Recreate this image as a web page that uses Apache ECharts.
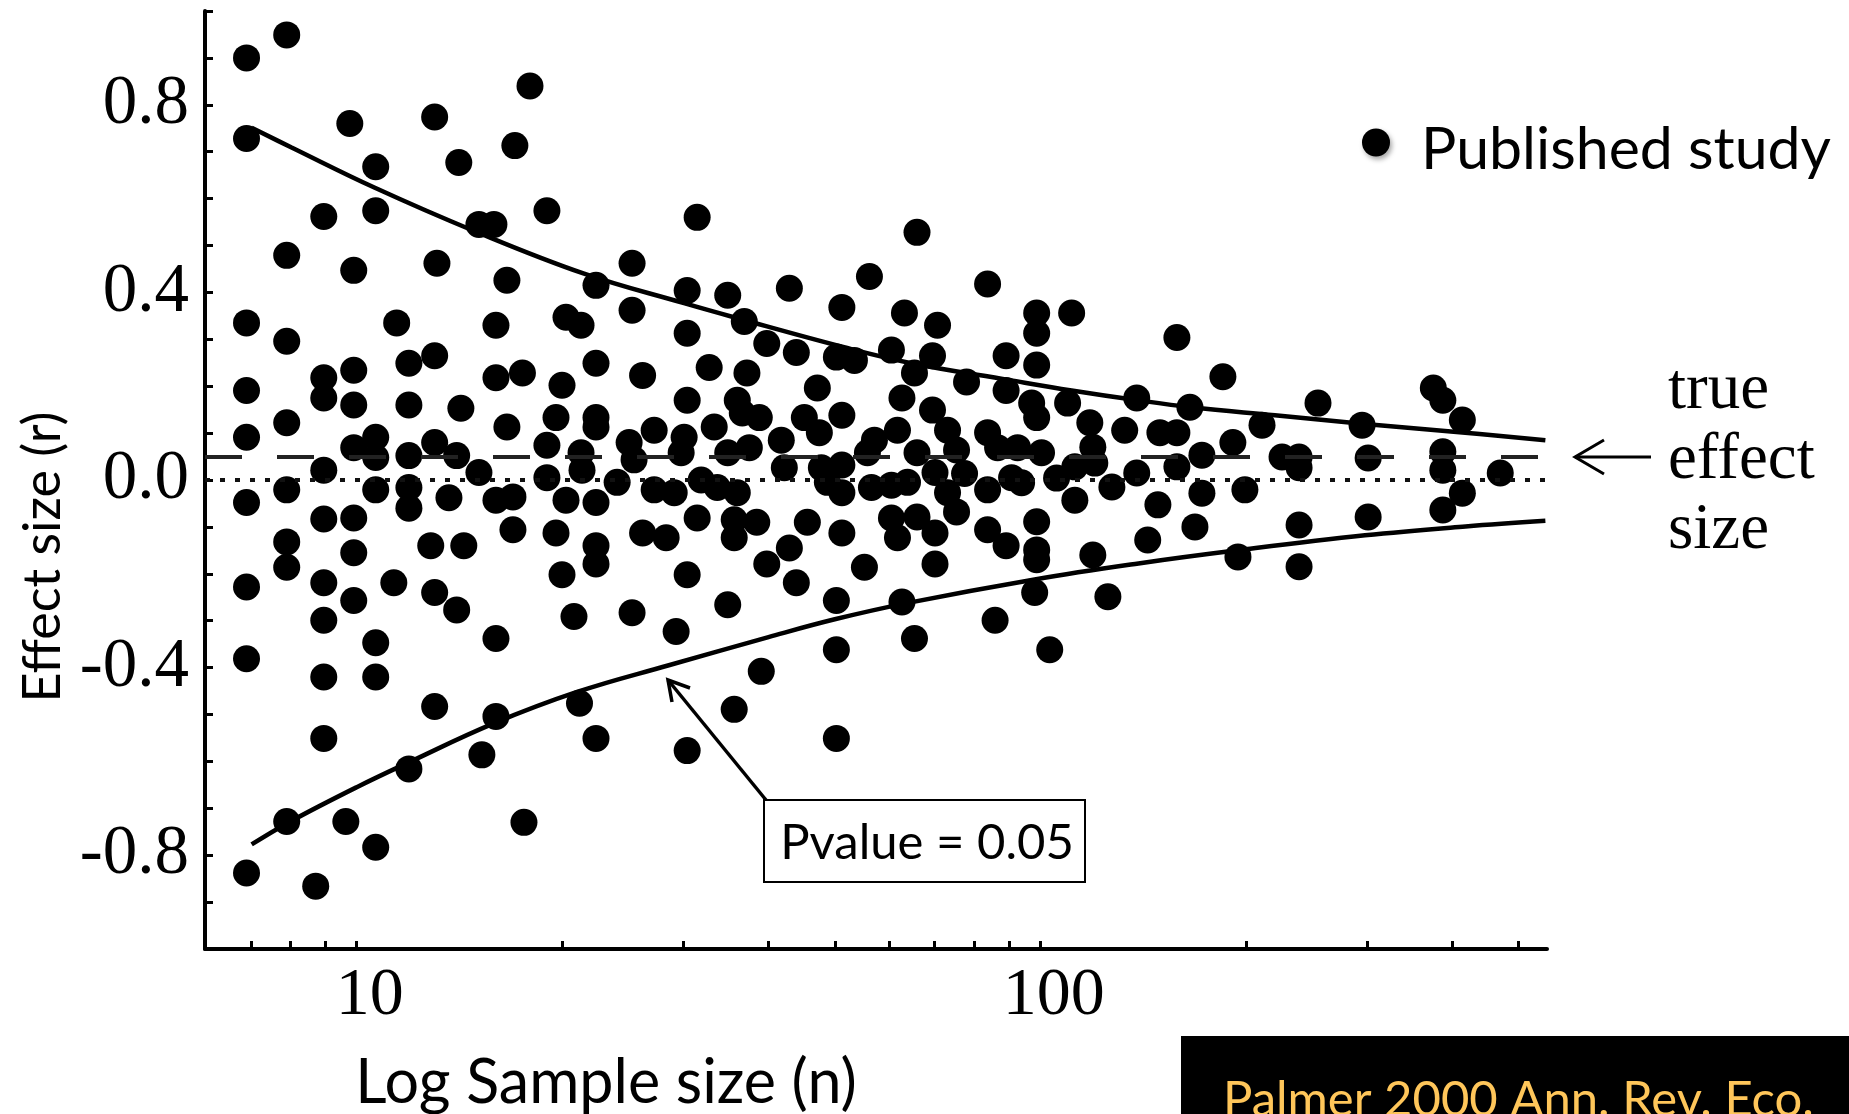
<!DOCTYPE html>
<html>
<head>
<meta charset="utf-8">
<script src="https://cdn.jsdelivr.net/npm/echarts@6/dist/echarts.min.js"></script>
<style>
html,body{margin:0;padding:0;background:#fff;}
#chart{width:1849px;height:1114px;}
</style>
</head>
<body>
<div id="chart"></div>
<script>
// ---- data ----
// each study: [sample size n, effect size r]
const studyPoints = [
[6.9,0.900],[6.9,0.728],[6.9,0.335],[6.9,0.191],[6.9,0.091],[6.9,-0.048],[6.9,-0.228],[6.9,-0.381],[6.9,-0.838],
[7.9,0.949],[7.9,0.479],[7.9,0.296],[7.9,0.122],[7.9,-0.021],[7.9,-0.132],[7.9,-0.186],[7.9,-0.728],
[8.95,0.562],[8.95,0.218],[8.95,0.175],[8.95,0.021],[8.95,-0.083],[8.95,-0.219],[8.95,-0.299],[8.95,-0.420],[8.95,-0.551],[8.71,-0.866],
[9.77,0.760],[9.9,0.447],[9.9,0.234],[9.9,0.160],[9.9,0.069],[9.9,-0.081],[9.9,-0.155],[9.9,-0.257],[9.64,-0.728],
[10.66,0.668],[10.66,0.574],[10.66,0.091],[10.66,0.048],[10.66,-0.021],[10.66,-0.347],[10.66,-0.420],[10.66,-0.783],
[11.44,0.335],[11.33,-0.219],[11.92,0.249],[11.92,0.160],[11.92,0.052],[11.92,-0.016],[11.92,-0.060],[11.92,-0.616],
[12.83,-0.140],[13.0,0.774],[13.0,0.265],[13.0,0.080],[13.0,-0.240],[13.0,-0.483],[13.1,0.462],
[13.64,-0.038],[14.0,0.052],[14.0,-0.277],[14.1,0.677],[14.2,0.153],[14.34,-0.140],
[15.09,0.545],[15.09,0.016],[15.24,-0.586],[15.87,0.545],[15.98,0.330],[15.98,0.218],[15.98,-0.043],[15.98,-0.338],[15.98,-0.504],
[16.58,0.426],[16.58,0.113],[16.92,-0.036],[16.92,-0.106],[17.03,0.713],[17.47,0.228],[17.56,-0.730],[17.92,0.840],
[18.97,0.574],[18.97,0.074],[18.97,0.005],[19.56,0.133],[19.56,-0.113],[19.96,0.202],[19.96,-0.202],[20.23,0.347],[20.23,-0.043],[20.78,-0.291],
[21.17,-0.476],[21.28,0.330],[21.28,0.058],[21.35,0.021],[22.38,0.415],[22.38,0.249],[22.38,0.133],[22.38,0.113],[22.38,-0.048],[22.38,-0.140],[22.38,-0.179],[22.38,-0.551],
[24.03,-0.005],[25.02,0.080],[25.27,0.462],[25.27,0.362],[25.27,-0.283],[25.44,0.043],[26.18,0.223],[26.18,-0.113],[27.22,0.106],[27.22,-0.021],[28.34,-0.123],
[29.12,-0.027],[29.31,-0.323],[29.81,0.058],[30.11,0.091],[30.42,0.404],[30.42,0.313],[30.42,0.170],[30.42,-0.202],[30.42,-0.577],[31.46,0.560],[31.46,-0.081],[31.89,0.000],[32.76,0.240],[33.32,0.113],[33.66,-0.016],
[34.87,0.394],[34.87,0.058],[34.87,-0.266],[35.64,-0.085],[35.64,-0.123],[35.64,-0.489],[36.01,0.170],[36.01,-0.027],[36.62,0.143],[36.87,0.338],[37.2,0.228],[37.5,0.069],[38.45,-0.090],[38.78,0.133],[39.04,-0.408],[39.77,0.291],[39.77,-0.179],
[41.76,0.085],[42.19,0.026],[42.91,0.409],[42.91,-0.145],[43.93,0.272],[43.93,-0.219],[45.13,0.133],[45.59,-0.090],[47.15,0.196],[47.47,0.101],[47.79,0.026],[48.77,-0.005],[50.27,0.262],[50.27,-0.257],[50.27,-0.362],[50.27,-0.551],[51.21,0.368],[51.21,0.138],[51.21,0.032],[51.21,-0.027],[51.21,-0.113],[53.42,0.255],[55.25,-0.186],[55.81,0.058],[56.19,0.434],[56.57,-0.016],[57.14,0.085],
[60.51,0.277],[60.51,-0.011],[60.51,-0.081],[61.75,0.106],[61.75,-0.123],[62.69,0.175],[62.69,-0.260],[63.22,0.356],[63.87,-0.005],[65.39,0.228],[65.39,-0.338],[65.95,0.528],[65.95,0.058],[65.95,-0.079],[69.48,0.265],[69.48,0.149],[70.07,0.016],[70.07,-0.113],[70.07,-0.179],[70.67,0.330],[73.09,0.106],[73.09,-0.027],[75.34,0.064],[75.34,-0.068],[77.40,0.014],[77.92,0.209],
[83.64,0.418],[83.64,0.101],[83.64,-0.021],[83.64,-0.106],[85.78,-0.299],[86.51,0.069],[89.02,0.265],[89.02,0.191],[89.02,-0.140],[90.68,0.005],[92.53,0.069],[93.79,-0.006],[97.02,0.164],[98.01,-0.240],[98.67,0.356],[98.67,0.313],[98.67,0.245],[98.67,0.133],[98.67,-0.089],[98.67,-0.149],[98.67,-0.170],[100.3,0.058],
[103.1,-0.362],[105.5,0.004],[109.5,0.164],[111.0,0.356],[112.2,0.028],[112.2,-0.043],[118.0,0.122],[119.2,0.070],[119.2,-0.160],[120.0,0.036],[125.4,-0.249],[127.1,-0.015],[132.7,0.106],[138.2,0.175],[138.2,0.015],[143.4,-0.128],[148.4,-0.053],[149.4,0.101],
[158.2,0.304],[158.2,0.101],[158.2,0.028],[165.3,0.155],[168.1,-0.100],[172.1,0.053],[172.1,-0.028],[184.7,0.220],[191.0,0.080],[194.3,-0.164],[198.9,-0.021],[210.7,0.117],
[225.4,0.049],[238.7,0.049],[238.7,0.026],[238.7,-0.096],[238.7,-0.185],[254.4,0.164],[295.1,0.117],[301.2,0.047],[301.2,-0.079],[375.1,0.196],[387.3,0.170],[387.3,0.060],[387.3,0.021],[387.3,-0.064],[413.6,0.128],[413.6,-0.028],[469.9,0.015]
];

// P = 0.05 boundary curves
const upperN = [7.02, 8.03, 10.63, 14.79, 21.5, 30.1, 35.6, 51.6, 64.7, 90.1, 111, 138.7, 166.4, 220, 295, 394, 547];
const upperR = [0.751, 0.709, 0.623, 0.532, 0.440, 0.377, 0.347, 0.283, 0.249, 0.213, 0.191, 0.170, 0.155, 0.138, 0.120, 0.104, 0.085];
const lowerN = [7.02, 8, 10, 12, 15.8, 21, 28.6, 40, 50, 64, 98, 139, 194, 298, 418, 547];
const lowerR = [-0.777, -0.728, -0.655, -0.600, -0.520, -0.452, -0.395, -0.335, -0.297, -0.262, -0.212, -0.178, -0.150, -0.118, -0.099, -0.087];

const trueEffect = 0.048;
const nullEffect = 0;

const xRangeN = [6, 550];
const xTickN = [7, 8, 9, 10, 20, 30, 40, 50, 60, 70, 80, 90, 100, 200, 300, 400, 500];
const xLabelN = [10, 100];
const yRange = [-1, 1];
const yLabelR = [-0.8, -0.4, 0, 0.4, 0.8];

// ---- chart ----
const lg = Math.log10;
const chart = echarts.init(document.getElementById('chart'));

const serif = '"Liberation Serif", "Times New Roman", serif';
const sans = 'Lato, "Open Sans", sans-serif';

chart.setOption({
  animation: false,
  backgroundColor: '#fff',
  grid: { left: 205, right: 302, top: 11, bottom: 165, containLabel: false, outerBoundsMode: 'none' },
  legend: {
    data: ['Published study'],
    left: 1362, top: 120, padding: 0,
    icon: 'circle', itemWidth: 28, itemHeight: 28,
    itemStyle: { color: '#000', opacity: 1, shadowBlur: 5, shadowColor: 'rgba(0,0,0,0.35)', shadowOffsetX: 2, shadowOffsetY: 3 },
    formatter: name => '{p|' + name + '}',
    textStyle: {
      color: '#000',
      rich: { p: { fontFamily: sans, fontSize: 59, color: '#000', padding: [14, 0, 0, 26] } }
    }
  },
  xAxis: {
    type: 'value',
    min: lg(xRangeN[0]), max: lg(xRangeN[1]),
    name: 'Log Sample size (n)',
    nameLocation: 'middle', nameGap: 104,
    nameTextStyle: { fontFamily: sans, fontSize: 61, color: '#000', padding: [0, 540, 0, 0] },
    axisLine: { show: true, onZero: false, lineStyle: { color: '#000', width: 4 } },
    axisTick: { show: true, inside: true, length: 8, customValues: xTickN.map(lg), lineStyle: { color: '#000', width: 3 } },
    axisLabel: {
      customValues: xLabelN.map(lg),
      formatter: v => String(Math.round(Math.pow(10, v))),
      fontFamily: serif, fontSize: 68, color: '#000', margin: 13, padding: [0, 0, 0, 26]
    },
    splitLine: { show: false }
  },
  yAxis: {
    type: 'value',
    min: yRange[0], max: yRange[1], interval: 0.1,
    name: 'Effect size (r)',
    nameLocation: 'middle', nameRotate: 90, nameGap: 135,
    nameTextStyle: { fontFamily: sans, fontSize: 52, color: '#000', padding: [0, 154, 0, 0] },
    axisLine: { show: true, onZero: false, lineStyle: { color: '#000', width: 4 } },
    axisTick: { show: true, inside: true, length: 8, lineStyle: { color: '#000', width: 3 } },
    axisLabel: {
      customValues: yLabelR,
      formatter: v => (Math.abs(v) < 1e-9 ? 0 : v).toFixed(1),
      fontFamily: serif, fontSize: 69, color: '#000', margin: 16
    },
    splitLine: { show: false }
  },
  series: [
    {
      name: 'upper', type: 'line', z: 2, silent: true,
      data: upperN.map((n, i) => [lg(n), upperR[i]]),
      smooth: 0.4, showSymbol: false, symbol: 'none',
      lineStyle: { color: '#000', width: 4.5 },
      markLine: {
        silent: true, symbol: ['none', 'none'], label: { show: false },
        data: [
          { yAxis: trueEffect, lineStyle: { color: '#222', width: 4, type: [37, 35] } },
          { yAxis: nullEffect, lineStyle: { color: '#111', width: 4, type: [5, 10] } }
        ]
      }
    },
    {
      name: 'lower', type: 'line', z: 2, silent: true,
      data: lowerN.map((n, i) => [lg(n), lowerR[i]]),
      smooth: 0.4, showSymbol: false, symbol: 'none',
      lineStyle: { color: '#000', width: 4.5 }
    },
    {
      name: 'Published study', type: 'scatter', z: 3,
      data: studyPoints.map(p => [lg(p[0]), p[1]]),
      symbol: 'circle', symbolSize: 27,
      itemStyle: { color: '#000', opacity: 1 }
    }
  ],
  graphic: [
    // "true effect size" annotation with arrow
    { type: 'polyline', z: 10, shape: { points: [[1651, 457], [1575, 457]] }, style: { stroke: '#000', lineWidth: 3, fill: null } },
    { type: 'polyline', z: 10, shape: { points: [[1604, 440], [1575, 457], [1604, 474]] }, style: { stroke: '#000', lineWidth: 3, fill: null } },
    { type: 'text', z: 10, style: { text: 'true\neffect\nsize', x: 1668, y: 356, font: '65px ' + serif, lineHeight: 70, verticalAlign: 'top', align: 'left', fill: '#000' } },
    // P value annotation
    { type: 'polyline', z: 10, shape: { points: [[766, 800], [668, 680]] }, style: { stroke: '#000', lineWidth: 3.5, fill: null } },
    { type: 'polyline', z: 10, shape: { points: [[672, 702], [668, 680], [690, 688]] }, style: { stroke: '#000', lineWidth: 3.5, fill: null } },
    { type: 'rect', z: 10, shape: { x: 764, y: 800, width: 321, height: 82 }, style: { fill: '#fff', stroke: '#000', lineWidth: 2 } },
    { type: 'text', z: 11, style: { text: 'Pvalue = 0.05', x: 927, y: 843, font: '49px ' + sans, align: 'center', verticalAlign: 'middle', fill: '#000' } },
    // citation box
    { type: 'rect', z: 10, shape: { x: 1181, y: 1036, width: 668, height: 78 }, style: { fill: '#000' } },
    { type: 'text', z: 11, style: { text: 'Palmer 2000 Ann. Rev. Eco.', x: 1223, y: 1100, font: '49px ' + sans, align: 'left', verticalAlign: 'middle', fill: '#FFC65A' } }
  ]
});
</script>
</body>
</html>
